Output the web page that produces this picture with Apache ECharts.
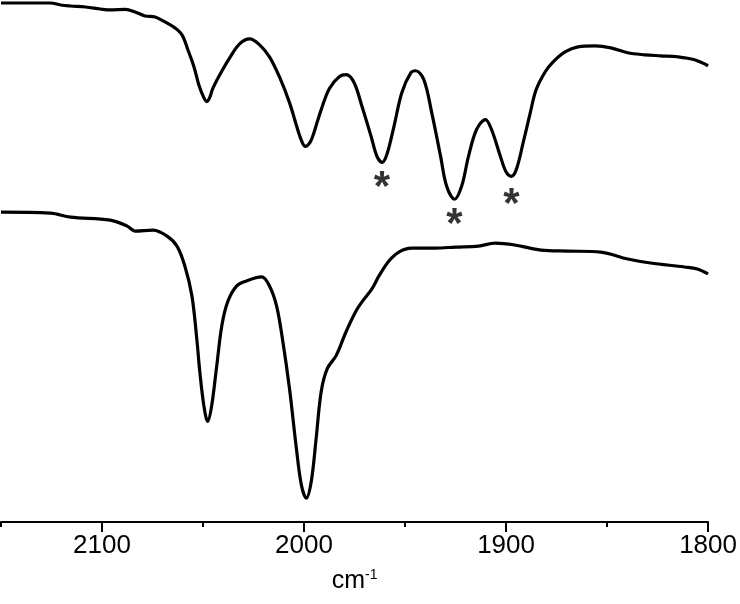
<!DOCTYPE html>
<html>
<head>
<meta charset="utf-8">
<script src="https://cdn.jsdelivr.net/npm/echarts@6/dist/echarts.min.js"></script>
<style>html,body{margin:0;padding:0;background:#fff}#c{width:740px;height:604px}</style>
</head>
<body>
<div id="c"></div>
<script>
// Wavenumbers (cm^-1) and transmittance (arbitrary units)
const topWn = [2150,2125.5,2120.5,2115.6,2108.2,2100.8,2095.9,2088.5,2083.6,2078.7,2073.7,2068.8,2063.9,2060.4,2057.5,2054.5,2052.1,2049.6,2048.1,2046.7,2045.2,2041.7,2036.8,2031.9,2026.9,2022.0,2017.1,2012.2,2007.2,2003.3,2001.3,1999.4,1997.4,1995.9,1993.4,1991.5,1987.5,1982.6,1979.2,1975.2,1971.3,1966.8,1963.9,1961.4,1959.0,1955.5,1951.6,1947.1,1944.7,1940.7,1936.8,1932.4,1929.4,1925.5,1922.0,1918.6,1914.6,1910.2,1907.2,1902.8,1899.9,1897.4,1894.9,1891.5,1888.0,1885.1,1880.6,1876.7,1870.8,1864.4,1856.0,1848.1,1839.8,1831.4,1823.5,1815.1,1806.7,1800];
const topT = [521,521,519,518,517,515,514,514.5,512,508,507,502,496,489,474,457,439,426,422,426,435,449,466,480,485,479,467,447,421,395,383,377,380,386,402,414,435,447,449,441,417,387,367,361,369,397,431,451,453,444,411,367,337,324,337,367,394,404,394,367,351,347,354,381,411,434,452,462,472,477,478,476,471,469,468,467,464,458];

const botWn = [2150,2125.5,2115.6,2095.9,2087.5,2083.6,2074.7,2067.8,2062.9,2059.0,2055.5,2053.1,2051.6,2049.6,2047.7,2045.7,2043.2,2040.7,2037.8,2033.3,2028.4,2021.0,2017.1,2013.6,2010.7,2007.2,2003.8,2001.3,1998.9,1996.4,1994.0,1991.5,1988.5,1984.1,1979.2,1974.2,1971.3,1966.4,1962.9,1958.0,1953.1,1946.7,1934.9,1925.0,1913.7,1905.4,1895.5,1882.7,1869.4,1853.2,1839.8,1828.5,1811.7,1805.3,1800];
const botT = [311,310,306,303,297,292,293,287,277,257,227,184,151,117,101,117,157,197,221,237,242,246,237,217,184,134,74,37,24,41,84,131,154,167,191,212,221,234,247,262,271,275,275,276,277,280,278,273,272,271,264,260,256,254,249];

// Asterisk markers under selected bands: [wavenumber, y]
const starWn = [1961.4, 1925.5, 1897.4];
const starT = [344, 307, 327];

const majorTicks = [2100, 2000, 1900, 1800];
const minorTicks = [2150, 2050, 1950, 1850];

const zip = (a, b) => a.map((v, i) => [v, b[i]]);

const chart = echarts.init(document.getElementById('c'));
const font = 'Liberation Sans, Arial, sans-serif';
chart.setOption({
  animation: false,
  grid: {left: 1, right: 30, top: 0, bottom: 82},
  xAxis: [{
    type: 'value', min: 1800, max: 2150, inverse: true,
    splitLine: {show: false},
    axisLine: {lineStyle: {color: '#000', width: 2}},
    axisTick: {customValues: majorTicks, length: 10, lineStyle: {color: '#000', width: 2}},
    axisLabel: {customValues: majorTicks, formatter: v => String(v), color: '#000', fontSize: 26, fontFamily: font, margin: 11},
    name: 'cm{s|-1}', nameLocation: 'middle', nameGap: 46,
    nameTextStyle: {color: '#000', fontSize: 25, fontFamily: font,
      rich: {s: {fontSize: 14, verticalAlign: 'top', padding: [0, 0, 12, 0], color: '#000', fontFamily: font}}}
  }, {
    type: 'value', min: 1800, max: 2150, inverse: true, position: 'bottom',
    splitLine: {show: false},
    axisLine: {show: false},
    axisTick: {customValues: minorTicks, length: 5, lineStyle: {color: '#000', width: 2}},
    axisLabel: {show: false}
  }],
  yAxis: {type: 'value', min: 0, max: 524, show: false},
  series: [{
    type: 'line', data: zip(topWn, topT), smooth: 0.35, symbol: 'none',
    lineStyle: {color: '#000', width: 3.2}
  }, {
    type: 'line', data: zip(botWn, botT), smooth: 0.35, symbol: 'none',
    lineStyle: {color: '#000', width: 3.2}
  }, {
    type: 'scatter', data: zip(starWn, starT), symbolSize: 0,
    label: {show: true, formatter: '*', position: 'inside', color: '#000',
      fontSize: 42, fontWeight: 'bold', fontFamily: font, offset: [0, 9]}
  }]
});
</script>
</body>
</html>
